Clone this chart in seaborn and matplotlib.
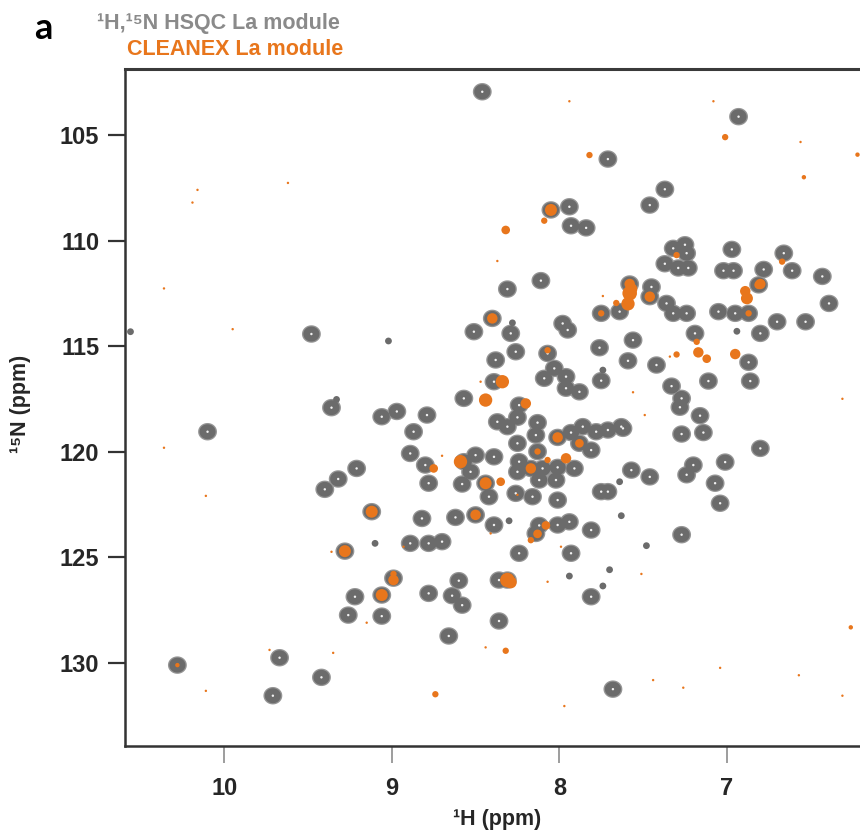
import numpy as np
import pandas as pd
import matplotlib
matplotlib.use("Agg")
import matplotlib.pyplot as plt
from matplotlib.path import Path
import seaborn as sns

# 1H,15N HSQC peaks (1H ppm, 15N ppm)
hsqc_h = [8.46, 7.71, 8.05, 7.94, 7.93, 7.84, 8.11, 8.31, 6.93, 7.37,
          7.46, 7.32, 7.25, 7.37, 7.29, 7.23, 7.24, 6.97, 7.02, 6.96,
          6.78, 6.66, 6.61, 6.43, 7.58, 7.45, 6.81, 7.64, 7.46, 7.36,
          7.32, 7.24, 7.05, 6.95, 6.87, 6.80, 6.70, 6.53, 6.39, 7.19,
          7.56, 7.59, 7.42, 6.87, 6.86, 7.11, 7.33, 7.27, 7.28, 7.16,
          7.27, 7.14, 7.62, 6.80, 7.20, 7.01, 7.57, 7.46, 7.24, 7.07,
          7.04, 8.40, 8.51, 8.29, 7.98, 7.95, 7.75, 7.76, 8.26, 8.07,
          8.38, 8.03, 7.96, 8.09, 7.96, 7.88, 7.75, 8.39, 8.57, 8.24,
          8.97, 9.06, 8.79, 8.25, 8.37, 8.31, 8.13, 8.87, 8.14, 8.01,
          7.93, 7.86, 7.78, 7.71, 7.63, 7.88, 7.81, 8.25, 8.13, 8.89,
          8.57, 8.50, 8.39, 8.80, 8.78, 8.53, 8.58, 8.24, 8.25, 8.17,
          8.10, 8.01, 7.91, 8.12, 8.02, 8.44, 8.42, 8.26, 8.16, 8.01,
          7.75, 7.71, 9.48, 9.36, 10.10, 9.21, 9.32, 9.40, 9.12, 9.28,
          9.22, 9.26, 10.28, 9.67, 9.42, 9.71, 8.82, 8.62, 8.50, 8.39,
          8.12, 8.14, 8.01, 7.94, 7.81, 8.24, 7.93, 8.89, 8.78, 8.70,
          8.99, 9.06, 9.06, 8.60, 8.31, 8.36, 8.78, 8.64, 8.58, 8.36,
          8.66, 7.81, 7.68, 7.27]
hsqc_n = [102.95, 106.14, 108.55, 108.40, 109.30, 109.40, 111.90, 112.30, 104.13, 107.57,
          108.32, 110.37, 110.20, 111.10, 111.30, 111.30, 110.60, 110.42, 111.43, 111.43,
          111.37, 110.60, 111.43, 111.70, 112.06, 112.20, 112.10, 113.37, 112.66, 112.98,
          113.45, 113.45, 113.37, 113.45, 113.45, 114.40, 113.85, 113.85, 112.98, 114.40,
          114.72, 115.70, 115.90, 115.77, 116.66, 116.66, 116.90, 117.48, 117.90, 118.30,
          119.17, 119.10, 118.90, 119.85, 120.64, 120.50, 120.88, 121.20, 121.10, 121.50,
          122.45, 113.69, 114.32, 114.40, 113.93, 114.24, 113.45, 115.08, 115.27, 115.35,
          115.66, 116.06, 116.45, 116.53, 117.00, 117.17, 116.64, 116.69, 117.48, 117.80,
          118.10, 118.35, 118.27, 118.38, 118.59, 118.82, 118.63, 119.06, 119.22, 119.33,
          119.10, 118.82, 119.06, 118.98, 118.82, 119.61, 119.93, 119.61, 120.00, 120.09,
          120.48, 120.17, 120.25, 120.64, 121.50, 120.96, 121.54, 120.48, 120.96, 120.80,
          120.80, 120.75, 120.80, 121.35, 121.35, 121.50, 122.14, 121.98, 122.14, 122.30,
          121.90, 121.90, 114.43, 117.92, 119.06, 120.80, 121.30, 121.79, 122.85, 124.72,
          126.88, 127.75, 130.12, 129.77, 130.70, 131.57, 123.17, 123.12, 123.00, 123.48,
          123.50, 123.88, 123.48, 123.33, 123.72, 124.82, 124.82, 124.35, 124.35, 124.27,
          126.00, 126.80, 127.80, 126.12, 126.09, 126.09, 126.72, 126.83, 127.28, 128.03,
          128.74, 126.88, 131.26, 123.94]

# weak HSQC signals (small contours)
weak_h = [6.94, 9.02, 8.28, 7.74, 7.64, 7.94, 7.70, 7.74, 7.48, 9.10,
          10.56, 7.63, 8.30, 9.33]
weak_n = [114.30, 114.76, 113.90, 116.14, 121.43, 125.90, 125.60, 126.37, 124.46, 124.35,
          114.32, 123.04, 123.28, 117.53]

# CLEANEX peaks (1H ppm, 15N ppm, relative intensity)
cleanex_h = [8.05, 7.94, 7.82, 8.09, 8.32, 8.37, 7.08, 7.01, 6.56, 6.22,
             6.54, 7.30, 6.67, 7.58, 6.80, 7.58, 7.59, 7.57, 7.46, 6.88,
             6.89, 6.81, 7.66, 7.75, 7.74, 6.87, 7.17, 7.12, 6.95, 7.30,
             7.34, 7.18, 6.31, 8.40, 8.07, 8.34, 8.47, 8.44, 8.20, 8.01,
             7.88, 8.13, 8.59, 8.75, 8.17, 8.07, 7.96, 8.44, 8.35, 8.25,
             8.70, 9.12, 9.28, 10.28, 8.50, 8.08, 8.13, 8.17, 8.99, 8.99,
             9.06, 8.31, 8.29, 8.32, 8.74, 7.04, 6.26, 9.62, 10.16, 10.19,
             10.36, 9.95, 10.36, 10.11, 10.11, 9.73, 9.35, 9.15, 9.36, 8.44,
             7.97, 8.07, 7.99, 8.93, 8.41, 7.51, 7.44, 7.26, 6.57, 6.31,
             7.56, 7.49]
cleanex_n = [108.55, 103.40, 105.95, 109.06, 109.50, 110.97, 103.40, 105.10, 105.33, 105.93,
             107.00, 110.69, 111.00, 112.06, 112.06, 112.50, 113.00, 112.30, 112.66, 112.74,
             112.40, 112.10, 112.96, 113.45, 112.63, 113.45, 115.30, 115.60, 115.38, 115.40,
             115.50, 114.80, 117.50, 113.69, 115.20, 116.69, 116.69, 117.56, 117.72, 119.33,
             119.61, 120.00, 120.48, 120.80, 120.80, 120.40, 120.32, 121.50, 121.43, 122.05,
             120.20, 122.85, 124.72, 130.12, 123.00, 123.50, 123.90, 124.20, 126.09, 125.80,
             126.80, 126.09, 126.20, 129.44, 131.50, 130.25, 128.33, 107.27, 107.60, 108.20,
             112.27, 114.20, 119.82, 122.10, 131.34, 129.40, 129.54, 128.11, 124.75, 129.28,
             132.06, 126.17, 124.51, 124.51, 123.88, 125.80, 130.83, 131.19, 130.60, 131.57,
             117.19, 118.27]
cleanex_int = [3.0, 1.0, 1.5, 1.5, 2.0, 1.0, 1.0, 1.5, 1.0, 1.2,
               1.2, 1.5, 1.5, 2.5, 2.5, 4.0, 3.5, 3.0, 2.5, 3.0,
               2.5, 2.0, 1.5, 1.5, 1.0, 1.5, 2.5, 2.0, 2.5, 1.5,
               1.0, 1.5, 1.0, 2.5, 1.5, 3.5, 1.0, 3.5, 2.5, 2.5,
               2.0, 1.5, 3.5, 2.0, 2.5, 1.5, 2.5, 3.0, 2.0, 1.0,
               1.0, 3.0, 3.0, 1.2, 2.5, 2.0, 2.0, 1.5, 2.5, 1.5,
               3.0, 4.0, 3.0, 1.5, 1.5, 1.0, 1.2, 1.0, 1.0, 1.0,
               1.0, 1.0, 1.0, 1.0, 1.0, 1.0, 1.0, 1.0, 1.0, 1.0,
               1.0, 1.0, 1.0, 1.0, 1.0, 1.0, 1.0, 1.0, 1.0, 1.0,
               1.0, 1.0]

x_ticks = [10, 9, 8, 7]
y_ticks = [105, 110, 115, 120, 125, 130]

GRAY_OUT = "#959595"
GRAY = "#6b6b6b"
ORANGE = "#e8761c"

hsqc = pd.DataFrame({"H": hsqc_h, "N": hsqc_n})
weak = pd.DataFrame({"H": weak_h, "N": weak_n})
cleanex = pd.DataFrame({"H": cleanex_h, "N": cleanex_n, "I": cleanex_int})

# slightly wide elliptical marker, like the contoured cross peaks
t = np.linspace(0, 2 * np.pi, 40)
peak_marker = Path(np.column_stack([1.08 * np.cos(t), np.sin(t)]), closed=True)

sns.set_style("ticks")
plt.rcParams["font.family"] = ["Liberation Sans", "DejaVu Sans"]
plt.rcParams["font.weight"] = "bold"

fig = plt.figure(figsize=(8.6, 8.32), dpi=100)
ax = fig.add_axes([0.1453, 0.1037, 0.8547, 0.8134])

# contour-like look: light outer rim, dark body, white centre
sns.scatterplot(data=hsqc, x="H", y="N", ax=ax, s=185, color=GRAY_OUT,
                marker=peak_marker, edgecolor="none", legend=False, zorder=2)
sns.scatterplot(data=hsqc, x="H", y="N", ax=ax, s=135, color=GRAY,
                marker=peak_marker, edgecolor="none", legend=False, zorder=3)
sns.scatterplot(data=weak, x="H", y="N", ax=ax, s=24, color=GRAY,
                edgecolor="none", legend=False, zorder=3)
sns.scatterplot(data=hsqc, x="H", y="N", ax=ax, s=3, color="#f2f2f2",
                edgecolor="none", legend=False, zorder=4)
sns.scatterplot(data=cleanex, x="H", y="N", size="I", sizes=(3, 110),
                size_norm=(1, 4), ax=ax, color=ORANGE, edgecolor="none",
                legend=False, zorder=5)

ax.set_xlim(10.593, 6.205)
ax.set_ylim(133.94, 101.87)
ax.set_xticks(x_ticks)
ax.set_yticks(y_ticks)
ax.set_xticklabels([str(v) for v in x_ticks], fontsize=17, fontweight="bold")
ax.set_yticklabels([str(v) for v in y_ticks], fontsize=17, fontweight="bold")
ax.tick_params(axis="x", length=12.5, width=1.2, color="#8c8c8c", pad=10)
ax.tick_params(axis="y", length=12.5, width=1.6, color="#333333", pad=6)

for side in ["left", "bottom"]:
    ax.spines[side].set_linewidth(1.8)
    ax.spines[side].set_color("#333333")
ax.spines["top"].set_linewidth(2.2)
ax.spines["top"].set_color("#3a3a3a")
ax.spines["right"].set_visible(False)

ax.set_xlabel("¹H (ppm)", fontsize=15.5, fontweight="bold")
ax.set_ylabel("¹⁵N (ppm)", fontsize=15.5, fontweight="bold")
ax.xaxis.set_label_coords(0.506, -0.093)
ax.yaxis.set_label_coords(-0.128, 0.505)

fig.text(0.05, 0.966, "a", fontsize=26, fontweight="bold", color="black",
         family=["Lato", "DejaVu Sans"], va="center", ha="center")
fig.text(0.113, 0.972, "¹H,¹⁵N HSQC La module", fontsize=15.5,
         fontweight="bold", color="#8a8a8a", va="center", ha="left")
fig.text(0.148, 0.941, "CLEANEX La module", fontsize=15.5,
         fontweight="bold", color=ORANGE, va="center", ha="left")

fig.savefig("out.png", dpi=100)
